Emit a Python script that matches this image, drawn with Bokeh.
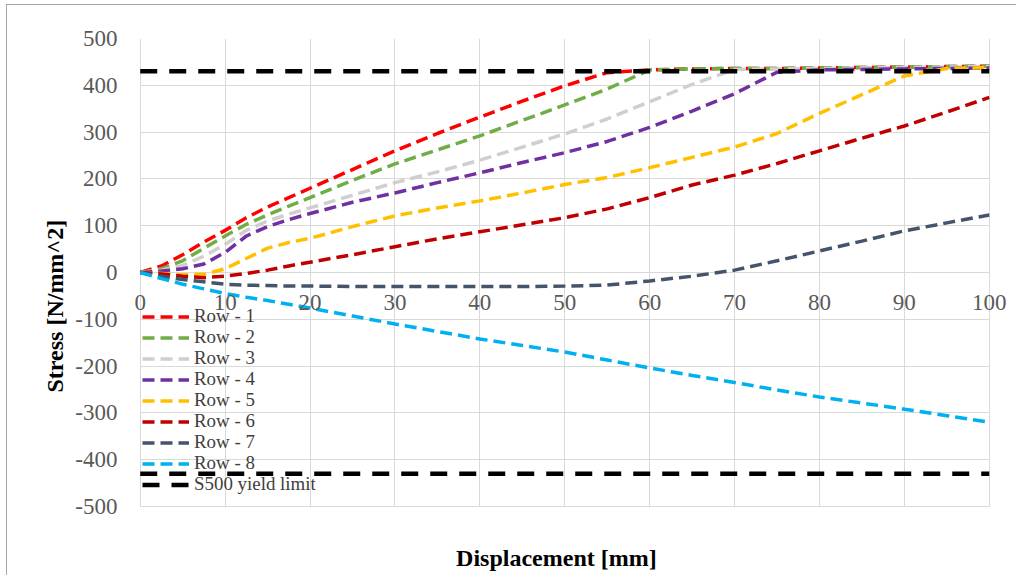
from bokeh.plotting import figure
from bokeh.models import (FixedTicker, Legend, LegendItem, Title, ColumnDataSource,
                          Label, PrintfTickFormatter)
from bokeh.embed import file_html
from bokeh.resources import INLINE

# ---------------- data ----------------
displacement = [0, 2.5, 5, 7.5, 10, 12.5, 15, 17.5, 20, 25, 30, 35, 40, 45,
                50, 55, 60, 65, 70, 75, 80, 85, 90, 95, 100]

row_1 = [0, 14, 38, 65, 90, 117, 140, 160, 180, 220, 260, 297, 332, 366,
         399, 427, 433, 435, 436, 436, 437, 438, 439, 440, 441]
row_2 = [0, 8, 25, 52, 78, 103, 123, 142, 160, 197, 232, 262, 292, 325,
         358, 392, 433, 435, 436, 436, 437, 438, 439, 440, 441]
row_3 = [0, 5, 15, 35, 60, 90, 110, 125, 138, 165, 192, 215, 240, 268,
         296, 328, 365, 402, 434, 435, 436, 437, 438, 439, 440]
row_4 = [0, 3, 8, 18, 43, 78, 98, 113, 126, 150, 170, 192, 213, 235,
         256, 280, 310, 345, 382, 428, 433, 434, 435, 436, 437]
row_5 = [0, -2, -5, -4, 8, 30, 52, 64, 73, 98, 121, 138, 153, 170,
         188, 203, 224, 246, 268, 297, 340, 380, 420, 436, 438]
row_6 = [0, -3, -8, -11, -8, -2, 5, 14, 22, 38, 55, 72, 87, 102,
         117, 136, 160, 187, 208, 233, 260, 287, 313, 343, 374]
row_7 = [0, -8, -15, -20, -25, -27, -28, -29, -29, -30, -30, -30, -30, -30,
         -29, -27, -18, -8, 5, 25, 46, 67, 89, 106, 123]
row_8 = [0, -13, -25, -35, -45, -53, -60, -68, -76, -93, -110, -126, -142, -156,
         -170, -187, -204, -220, -235, -251, -266, -279, -292, -306, -320]

series_names = ["Row - 1", "Row - 2", "Row - 3", "Row - 4",
                "Row - 5", "Row - 6", "Row - 7", "Row - 8"]
series_values = [row_1, row_2, row_3, row_4, row_5, row_6, row_7, row_8]
series_colors = ["#FF0000", "#70AD47", "#D0CECE", "#7030A0",
                 "#FFC000", "#C00000", "#44546A", "#00B0F0"]

yield_name = "S500 yield limit"
yield_limit = 430
yield_x = [0, 100]

x_ticks = [0, 10, 20, 30, 40, 50, 60, 70, 80, 90, 100]
x_tick_labels = ["0", "10", "20", "30", "40", "50", "60", "70", "80", "90", "100"]
y_ticks = [-500, -400, -300, -200, -100, 0, 100, 200, 300, 400, 500]

x_title = "Displacement [mm]"
y_title = "Stress [N/mm^2]"

FONT = "Liberation Serif"

# ---------------- figure ----------------
# the frame is a little wider / taller than the 0..100 x -500..500 grid so that
# the texts at its edges (x tick labels, x title) are not clipped
p = figure(width=1010, height=571, output_backend="svg", toolbar_location=None,
           x_range=(-1.5, 102.5), y_range=(-649.6, 500),
           min_border_left=120, min_border_right=7,
           min_border_top=33, min_border_bottom=0,
           background_fill_color="white", border_fill_color="white")
p.margin = (4, 0, 0, 6)
p.styles = {"border-left": "1px solid #a6a6a6", "border-top": "1px solid #a6a6a6"}
p.outline_line_color = None

# grid limited to the data box
p.xgrid.ticker = FixedTicker(ticks=x_ticks)
p.ygrid.ticker = FixedTicker(ticks=y_ticks)
p.xgrid.cross_bounds = (y_ticks[0], y_ticks[-1])
p.ygrid.cross_bounds = (x_ticks[0], x_ticks[-1])
p.xgrid.grid_line_color = "#D9D9D9"
p.ygrid.grid_line_color = "#D9D9D9"
p.xgrid.grid_line_width = 1
p.ygrid.grid_line_width = 1

# x axis crosses at y = 0: its tick labels are placed at that crossing
p.xaxis.visible = False
for tx, tl in zip(x_ticks, x_tick_labels):
    p.add_layout(Label(x=tx, y=0, text=tl, y_offset=-23,
                       text_align="center", text_baseline="top",
                       text_font=FONT, text_font_size="23px",
                       text_color="#595959"))

yax = p.yaxis[0]
yax.ticker = FixedTicker(ticks=y_ticks)
yax.formatter = PrintfTickFormatter(format="%d")
yax.major_tick_line_color = None
yax.minor_tick_line_color = None
yax.major_tick_out = 0
yax.major_tick_in = 0
yax.axis_line_color = None
yax.major_label_text_font = FONT
yax.major_label_text_font_size = "23px"
yax.major_label_text_color = "#595959"
yax.major_label_standoff = 10

items = []
for name, vals, col in zip(series_names, series_values, series_colors):
    src = ColumnDataSource(dict(x=displacement, y=vals))
    r = p.line("x", "y", source=src, line_color=col, line_width=3.5,
               line_dash="12 6")
    items.append(LegendItem(label=name, renderers=[r]))

ry_top = p.line(yield_x, [yield_limit, yield_limit], line_color="black",
                line_width=4.5, line_dash="17 12")
ry_bot = p.line(yield_x, [-yield_limit, -yield_limit], line_color="black",
                line_width=4.5, line_dash="17 12")
items.append(LegendItem(label=yield_name, renderers=[ry_top]))

# one legend box per entry so the rows can sit 21 px apart
n_items = len(items)
for k, item in enumerate(items):
    lg = Legend(items=[item], location=(15, 81 + 21 * (n_items - 1 - k)))
    lg.background_fill_alpha = 0
    lg.border_line_alpha = 0
    lg.padding = 0
    lg.margin = 0
    lg.spacing = 0
    lg.glyph_width = 47
    lg.glyph_height = 21
    lg.label_height = 21
    lg.label_standoff = 5
    lg.label_text_font = FONT
    lg.label_text_font_size = "18.9px"
    lg.label_text_color = "#404040"
    p.add_layout(lg, "center")

ytitle = Title(text=y_title, align="left", offset=184,
               text_font=FONT, text_font_size="24px", text_font_style="bold",
               text_color="black")
p.add_layout(ytitle, "left")

p.add_layout(Label(x=37.2, y=-611, text=x_title, text_align="left",
                   text_baseline="middle", text_font=FONT,
                   text_font_size="24px", text_font_style="bold",
                   text_color="black"))

open("out.html", "w").write(file_html(p, INLINE))
